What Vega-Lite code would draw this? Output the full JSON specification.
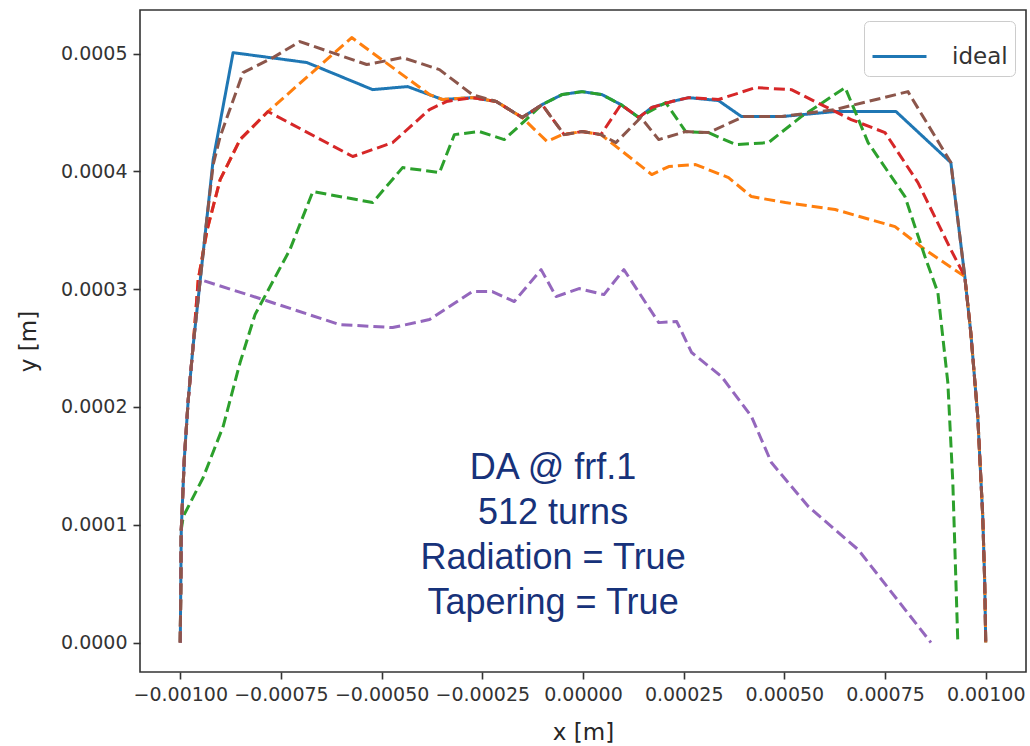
{
  "$schema": "https://vega.github.io/schema/vega-lite/v6.json",
  "width": 886,
  "height": 662,
  "autosize": {"type": "none"},
  "padding": {"left": 140, "top": 10, "right": 4, "bottom": 74},
  "background": "white",
  "config": {
    "view": {"stroke": "#333333", "strokeWidth": 1.6},
    "axis": {
      "domain": false,
      "grid": false,
      "tickColor": "#333333",
      "tickWidth": 1.6,
      "tickSize": 7,
      "labelPadding": 6,
      "labelFont": "DejaVu Sans",
      "labelFontSize": 19,
      "labelColor": "#333333",
      "labelOverlap": false,
      "titleFont": "DejaVu Sans",
      "titleFontSize": 23,
      "titleFontWeight": "normal",
      "titleColor": "#262626"
    }
  },
  "datasets": {
    "lines": [
      {"s":"ideal","i":0,"x":-0.001,"y":0},
      {"s":"ideal","i":1,"x":-0.0009975,"y":0.0000959},
      {"s":"ideal","i":2,"x":-0.0009901,"y":0.0001553},
      {"s":"ideal","i":3,"x":-0.0009802,"y":0.0002063},
      {"s":"ideal","i":4,"x":-0.0009678,"y":0.000253},
      {"s":"ideal","i":5,"x":-0.000953,"y":0.0002997},
      {"s":"ideal","i":6,"x":-0.0009356,"y":0.0003548},
      {"s":"ideal","i":7,"x":-0.0009183,"y":0.00041},
      {"s":"ideal","i":8,"x":-0.0008688,"y":0.0005008},
      {"s":"ideal","i":9,"x":-0.0006856,"y":0.0004924},
      {"s":"ideal","i":10,"x":-0.0005223,"y":0.0004694},
      {"s":"ideal","i":11,"x":-0.0004356,"y":0.000472},
      {"s":"ideal","i":12,"x":-0.000349,"y":0.000461},
      {"s":"ideal","i":13,"x":-0.0002748,"y":0.0004626},
      {"s":"ideal","i":14,"x":-0.0002153,"y":0.0004593},
      {"s":"ideal","i":15,"x":-0.000151,"y":0.0004457},
      {"s":"ideal","i":16,"x":-0.0001015,"y":0.0004567},
      {"s":"ideal","i":17,"x":-0.000052,"y":0.0004652},
      {"s":"ideal","i":18,"x":-0.0000025,"y":0.0004677},
      {"s":"ideal","i":19,"x":0.000047,"y":0.0004652},
      {"s":"ideal","i":20,"x":0.0000941,"y":0.0004567},
      {"s":"ideal","i":21,"x":0.0001386,"y":0.0004457},
      {"s":"ideal","i":22,"x":0.0001708,"y":0.0004542},
      {"s":"ideal","i":23,"x":0.0002203,"y":0.0004593},
      {"s":"ideal","i":24,"x":0.0002624,"y":0.0004626},
      {"s":"ideal","i":25,"x":0.0003366,"y":0.0004601},
      {"s":"ideal","i":26,"x":0.0003936,"y":0.0004465},
      {"s":"ideal","i":27,"x":0.0004926,"y":0.0004465},
      {"s":"ideal","i":28,"x":0.0006262,"y":0.0004508},
      {"s":"ideal","i":29,"x":0.0007772,"y":0.0004508},
      {"s":"ideal","i":30,"x":0.0009134,"y":0.0004075},
      {"s":"ideal","i":31,"x":0.000948,"y":0.0003107},
      {"s":"ideal","i":32,"x":0.0009629,"y":0.0002632},
      {"s":"ideal","i":33,"x":0.0009802,"y":0.0001919},
      {"s":"ideal","i":34,"x":0.0009926,"y":0.000107},
      {"s":"ideal","i":35,"x":0.0009975,"y":0.0000509},
      {"s":"ideal","i":36,"x":0.001,"y":0},

      {"s":"run 1","i":0,"x":-0.001,"y":0},
      {"s":"run 1","i":1,"x":-0.0009975,"y":0.0000959},
      {"s":"run 1","i":2,"x":-0.0009901,"y":0.0001553},
      {"s":"run 1","i":3,"x":-0.0009802,"y":0.0002063},
      {"s":"run 1","i":4,"x":-0.0009678,"y":0.000253},
      {"s":"run 1","i":5,"x":-0.0009554,"y":0.0003081},
      {"s":"run 1","i":6,"x":-0.0009332,"y":0.0003506},
      {"s":"run 1","i":7,"x":-0.000901,"y":0.000393},
      {"s":"run 1","i":8,"x":-0.0008515,"y":0.000427},
      {"s":"run 1","i":9,"x":-0.0007822,"y":0.0004508},
      {"s":"run 1","i":10,"x":-0.0005743,"y":0.0005136},
      {"s":"run 1","i":11,"x":-0.0003812,"y":0.0004652},
      {"s":"run 1","i":12,"x":-0.000349,"y":0.000461},
      {"s":"run 1","i":13,"x":-0.0002748,"y":0.0004626},
      {"s":"run 1","i":14,"x":-0.0002153,"y":0.0004593},
      {"s":"run 1","i":15,"x":-0.000151,"y":0.0004457},
      {"s":"run 1","i":16,"x":-0.0000891,"y":0.0004253},
      {"s":"run 1","i":17,"x":-0.000052,"y":0.0004312},
      {"s":"run 1","i":18,"x":-0.0000025,"y":0.0004338},
      {"s":"run 1","i":19,"x":0.0000446,"y":0.0004312},
      {"s":"run 1","i":20,"x":0.0001708,"y":0.0003973},
      {"s":"run 1","i":21,"x":0.0002129,"y":0.0004041},
      {"s":"run 1","i":22,"x":0.0002797,"y":0.0004058},
      {"s":"run 1","i":23,"x":0.0003614,"y":0.0003947},
      {"s":"run 1","i":24,"x":0.0004183,"y":0.0003786},
      {"s":"run 1","i":25,"x":0.0005025,"y":0.0003735},
      {"s":"run 1","i":26,"x":0.0006262,"y":0.0003676},
      {"s":"run 1","i":27,"x":0.0007748,"y":0.0003531},
      {"s":"run 1","i":28,"x":0.000849,"y":0.0003336},
      {"s":"run 1","i":29,"x":0.000948,"y":0.0003107},
      {"s":"run 1","i":30,"x":0.0009629,"y":0.0002632},
      {"s":"run 1","i":31,"x":0.0009802,"y":0.0001919},
      {"s":"run 1","i":32,"x":0.0009926,"y":0.000107},
      {"s":"run 1","i":33,"x":0.0009975,"y":0.0000509},
      {"s":"run 1","i":34,"x":0.001,"y":0},

      {"s":"run 2","i":0,"x":-0.001,"y":0},
      {"s":"run 2","i":1,"x":-0.0009975,"y":0.0000959},
      {"s":"run 2","i":2,"x":-0.0009926,"y":0.000107},
      {"s":"run 2","i":3,"x":-0.0009431,"y":0.0001401},
      {"s":"run 2","i":4,"x":-0.0008936,"y":0.0001834},
      {"s":"run 2","i":5,"x":-0.0008515,"y":0.0002377},
      {"s":"run 2","i":6,"x":-0.0008144,"y":0.0002784},
      {"s":"run 2","i":7,"x":-0.0007277,"y":0.0003336},
      {"s":"run 2","i":8,"x":-0.0006708,"y":0.0003829},
      {"s":"run 2","i":9,"x":-0.0005223,"y":0.0003735},
      {"s":"run 2","i":10,"x":-0.000448,"y":0.0004032},
      {"s":"run 2","i":11,"x":-0.0003564,"y":0.000399},
      {"s":"run 2","i":12,"x":-0.0003193,"y":0.0004312},
      {"s":"run 2","i":13,"x":-0.0002574,"y":0.0004338},
      {"s":"run 2","i":14,"x":-0.0001955,"y":0.000427},
      {"s":"run 2","i":15,"x":-0.0001411,"y":0.000444},
      {"s":"run 2","i":16,"x":-0.0001015,"y":0.0004567},
      {"s":"run 2","i":17,"x":-0.000052,"y":0.0004652},
      {"s":"run 2","i":18,"x":-0.0000025,"y":0.0004677},
      {"s":"run 2","i":19,"x":0.000047,"y":0.0004652},
      {"s":"run 2","i":20,"x":0.0000941,"y":0.0004567},
      {"s":"run 2","i":21,"x":0.0001386,"y":0.0004457},
      {"s":"run 2","i":22,"x":0.0002054,"y":0.0004584},
      {"s":"run 2","i":23,"x":0.000255,"y":0.0004338},
      {"s":"run 2","i":24,"x":0.0003119,"y":0.0004329},
      {"s":"run 2","i":25,"x":0.0003787,"y":0.0004228},
      {"s":"run 2","i":26,"x":0.0004604,"y":0.0004244},
      {"s":"run 2","i":27,"x":0.0005421,"y":0.0004465},
      {"s":"run 2","i":28,"x":0.000651,"y":0.0004711},
      {"s":"run 2","i":29,"x":0.0007079,"y":0.0004244},
      {"s":"run 2","i":30,"x":0.0007995,"y":0.0003786},
      {"s":"run 2","i":31,"x":0.000849,"y":0.0003277},
      {"s":"run 2","i":32,"x":0.0008812,"y":0.0002971},
      {"s":"run 2","i":33,"x":0.0009059,"y":0.0002207},
      {"s":"run 2","i":34,"x":0.0009183,"y":0.0001358},
      {"s":"run 2","i":35,"x":0.0009307,"y":0},

      {"s":"run 3","i":0,"x":-0.001,"y":0},
      {"s":"run 3","i":1,"x":-0.0009975,"y":0.0000959},
      {"s":"run 3","i":2,"x":-0.0009901,"y":0.0001553},
      {"s":"run 3","i":3,"x":-0.0009802,"y":0.0002063},
      {"s":"run 3","i":4,"x":-0.0009678,"y":0.000253},
      {"s":"run 3","i":5,"x":-0.0009554,"y":0.0003081},
      {"s":"run 3","i":6,"x":-0.0009332,"y":0.0003506},
      {"s":"run 3","i":7,"x":-0.000901,"y":0.000393},
      {"s":"run 3","i":8,"x":-0.0008515,"y":0.000427},
      {"s":"run 3","i":9,"x":-0.0007822,"y":0.0004508},
      {"s":"run 3","i":10,"x":-0.0005718,"y":0.0004126},
      {"s":"run 3","i":11,"x":-0.0004728,"y":0.0004244},
      {"s":"run 3","i":12,"x":-0.0003812,"y":0.0004525},
      {"s":"run 3","i":13,"x":-0.0003391,"y":0.0004593},
      {"s":"run 3","i":14,"x":-0.0002748,"y":0.0004626},
      {"s":"run 3","i":15,"x":-0.0002153,"y":0.0004593},
      {"s":"run 3","i":16,"x":-0.000151,"y":0.0004457},
      {"s":"run 3","i":17,"x":-0.0001015,"y":0.0004567},
      {"s":"run 3","i":18,"x":-0.000047,"y":0.0004312},
      {"s":"run 3","i":19,"x":-0.0000025,"y":0.0004338},
      {"s":"run 3","i":20,"x":0.0000446,"y":0.0004312},
      {"s":"run 3","i":21,"x":0.0000941,"y":0.0004567},
      {"s":"run 3","i":22,"x":0.0001386,"y":0.0004457},
      {"s":"run 3","i":23,"x":0.0001708,"y":0.0004542},
      {"s":"run 3","i":24,"x":0.0002203,"y":0.0004593},
      {"s":"run 3","i":25,"x":0.0002624,"y":0.0004626},
      {"s":"run 3","i":26,"x":0.0003366,"y":0.000461},
      {"s":"run 3","i":27,"x":0.0004282,"y":0.0004711},
      {"s":"run 3","i":28,"x":0.0005173,"y":0.0004694},
      {"s":"run 3","i":29,"x":0.0006658,"y":0.000444},
      {"s":"run 3","i":30,"x":0.00075,"y":0.0004329},
      {"s":"run 3","i":31,"x":0.0008317,"y":0.0003905},
      {"s":"run 3","i":32,"x":0.0009134,"y":0.0003336},
      {"s":"run 3","i":33,"x":0.000948,"y":0.0003107},
      {"s":"run 3","i":34,"x":0.0009629,"y":0.0002632},
      {"s":"run 3","i":35,"x":0.0009802,"y":0.0001919},
      {"s":"run 3","i":36,"x":0.0009926,"y":0.000107},
      {"s":"run 3","i":37,"x":0.0009975,"y":0.0000509},
      {"s":"run 3","i":38,"x":0.001,"y":0},

      {"s":"run 4","i":0,"x":-0.001,"y":0},
      {"s":"run 4","i":1,"x":-0.0009975,"y":0.0000959},
      {"s":"run 4","i":2,"x":-0.0009901,"y":0.0001553},
      {"s":"run 4","i":3,"x":-0.0009802,"y":0.0002063},
      {"s":"run 4","i":4,"x":-0.0009678,"y":0.000253},
      {"s":"run 4","i":5,"x":-0.0009505,"y":0.0003081},
      {"s":"run 4","i":6,"x":-0.0007946,"y":0.0002912},
      {"s":"run 4","i":7,"x":-0.000604,"y":0.0002699},
      {"s":"run 4","i":8,"x":-0.0004728,"y":0.0002674},
      {"s":"run 4","i":9,"x":-0.0003812,"y":0.0002742},
      {"s":"run 4","i":10,"x":-0.0002748,"y":0.000298},
      {"s":"run 4","i":11,"x":-0.0002252,"y":0.000298},
      {"s":"run 4","i":12,"x":-0.0001708,"y":0.0002895},
      {"s":"run 4","i":13,"x":-0.000104,"y":0.0003166},
      {"s":"run 4","i":14,"x":-0.0000668,"y":0.0002937},
      {"s":"run 4","i":15,"x":-0.0000099,"y":0.0003005},
      {"s":"run 4","i":16,"x":0.000052,"y":0.0002954},
      {"s":"run 4","i":17,"x":0.0001015,"y":0.0003166},
      {"s":"run 4","i":18,"x":0.0001881,"y":0.0002716},
      {"s":"run 4","i":19,"x":0.0002327,"y":0.0002725},
      {"s":"run 4","i":20,"x":0.0002698,"y":0.0002462},
      {"s":"run 4","i":21,"x":0.0003441,"y":0.0002258},
      {"s":"run 4","i":22,"x":0.0004183,"y":0.0001919},
      {"s":"run 4","i":23,"x":0.0004678,"y":0.0001528},
      {"s":"run 4","i":24,"x":0.0005594,"y":0.0001155},
      {"s":"run 4","i":25,"x":0.0006832,"y":0.0000789},
      {"s":"run 4","i":26,"x":0.0008639,"y":0},

      {"s":"run 5","i":0,"x":-0.001,"y":0},
      {"s":"run 5","i":1,"x":-0.0009975,"y":0.0000959},
      {"s":"run 5","i":2,"x":-0.0009901,"y":0.0001553},
      {"s":"run 5","i":3,"x":-0.0009802,"y":0.0002063},
      {"s":"run 5","i":4,"x":-0.0009678,"y":0.000253},
      {"s":"run 5","i":5,"x":-0.000953,"y":0.0002997},
      {"s":"run 5","i":6,"x":-0.0009356,"y":0.0003548},
      {"s":"run 5","i":7,"x":-0.0009183,"y":0.0004058},
      {"s":"run 5","i":8,"x":-0.000901,"y":0.0004295},
      {"s":"run 5","i":9,"x":-0.0008441,"y":0.0004839},
      {"s":"run 5","i":10,"x":-0.0007698,"y":0.0004966},
      {"s":"run 5","i":11,"x":-0.000703,"y":0.0005102},
      {"s":"run 5","i":12,"x":-0.0005371,"y":0.0004907},
      {"s":"run 5","i":13,"x":-0.000448,"y":0.0004966},
      {"s":"run 5","i":14,"x":-0.0003564,"y":0.0004864},
      {"s":"run 5","i":15,"x":-0.0002748,"y":0.0004652},
      {"s":"run 5","i":16,"x":-0.0002153,"y":0.0004593},
      {"s":"run 5","i":17,"x":-0.000151,"y":0.0004457},
      {"s":"run 5","i":18,"x":-0.0001015,"y":0.0004567},
      {"s":"run 5","i":19,"x":-0.000047,"y":0.0004312},
      {"s":"run 5","i":20,"x":-0.0000025,"y":0.0004338},
      {"s":"run 5","i":21,"x":0.0000446,"y":0.0004312},
      {"s":"run 5","i":22,"x":0.0000817,"y":0.0004244},
      {"s":"run 5","i":23,"x":0.0001436,"y":0.0004457},
      {"s":"run 5","i":24,"x":0.0001881,"y":0.000427},
      {"s":"run 5","i":25,"x":0.000255,"y":0.0004338},
      {"s":"run 5","i":26,"x":0.0003119,"y":0.0004329},
      {"s":"run 5","i":27,"x":0.0003985,"y":0.0004465},
      {"s":"run 5","i":28,"x":0.0004926,"y":0.0004465},
      {"s":"run 5","i":29,"x":0.0006262,"y":0.0004525},
      {"s":"run 5","i":30,"x":0.0008069,"y":0.0004677},
      {"s":"run 5","i":31,"x":0.0009134,"y":0.0004075},
      {"s":"run 5","i":32,"x":0.000948,"y":0.0003107},
      {"s":"run 5","i":33,"x":0.0009629,"y":0.0002632},
      {"s":"run 5","i":34,"x":0.0009802,"y":0.0001919},
      {"s":"run 5","i":35,"x":0.0009926,"y":0.000107},
      {"s":"run 5","i":36,"x":0.0009975,"y":0.0000509},
      {"s":"run 5","i":37,"x":0.001,"y":0}
    ],
    "notes": [
      {"x": -0.0000743, "y": 0.0001486, "label": "DA @ frf.1\n512 turns\nRadiation = True\nTapering = True"}
    ]
  },
  "layer": [
    {
      "data": {"name": "lines"},
      "mark": {"type": "line", "strokeWidth": 3, "strokeJoin": "round"},
      "encoding": {
        "x": {
          "field": "x", "type": "quantitative",
          "scale": {"domain": [-0.0011, 0.0011], "nice": false, "zero": false},
          "axis": {"title": "x [m]", "values": [-0.001, -0.00075, -0.0005, -0.00025, 0, 0.00025, 0.0005, 0.00075, 0.001], "format": ".5f", "titlePadding": 17}
        },
        "y": {
          "field": "y", "type": "quantitative",
          "scale": {"domain": [-0.000025, 0.000537], "nice": false, "zero": false},
          "axis": {"title": "y [m]", "values": [0, 0.0001, 0.0002, 0.0003, 0.0004, 0.0005], "format": ".4f", "titlePadding": 20}
        },
        "order": {"field": "i", "type": "quantitative"},
        "color": {
          "field": "s", "type": "nominal",
          "scale": {"domain": ["ideal", "run 1", "run 2", "run 3", "run 4", "run 5"], "range": ["#1f77b4", "#ff7f0e", "#2ca02c", "#d62728", "#9467bd", "#8c564b"]},
          "legend": {
            "values": ["ideal"], "orient": "top-right", "offset": 11, "title": null,
            "symbolType": "stroke", "symbolStrokeWidth": 3, "symbolSize": 2916,
            "labelFont": "DejaVu Sans", "labelFontSize": 23, "labelColor": "#333333", "labelOffset": 24,
            "padding": 7, "strokeColor": "#cccccc", "cornerRadius": 5, "fillColor": "white"
          }
        },
        "strokeDash": {
          "field": "s", "type": "nominal",
          "scale": {"domain": ["ideal", "run 1", "run 2", "run 3", "run 4", "run 5"], "range": [[1, 0], [11, 5], [11, 5], [11, 5], [11, 5], [11, 5]]},
          "legend": null
        }
      }
    },
    {
      "data": {"name": "notes"},
      "mark": {"type": "text", "font": "Liberation Sans", "fontSize": 36, "color": "#17327a", "align": "center", "baseline": "middle", "lineBreak": "\n", "lineHeight": 45},
      "encoding": {
        "x": {"field": "x", "type": "quantitative"},
        "y": {"field": "y", "type": "quantitative"},
        "text": {"field": "label", "type": "nominal"}
      }
    }
  ]
}
